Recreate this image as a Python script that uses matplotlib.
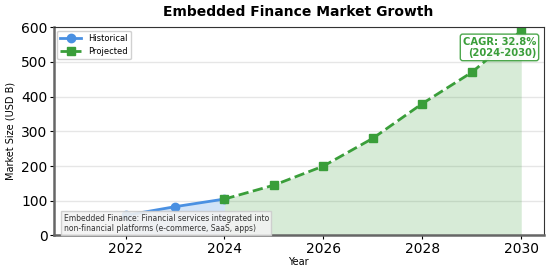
import matplotlib
matplotlib.use("Agg")
import matplotlib.pyplot as plt

hist_years = [2022, 2023, 2024]
hist_values = [58, 83, 105]
proj_years = [2024, 2025, 2026, 2027, 2028, 2029, 2030]
proj_values = [105, 145, 200, 280, 380, 470, 590]
xticks = [2022, 2024, 2026, 2028, 2030]
yticks = [0, 100, 200, 300, 400, 500, 600]

blue = "#4a90e2"
green = "#3a9e3a"

fig, ax = plt.subplots(figsize=(5.49, 2.67), dpi=100)
fig.subplots_adjust(left=0.098, right=0.99, top=0.898, bottom=0.118)

ax.fill_between(hist_years, hist_values, 0, color=blue, alpha=0.25, linewidth=0)
ax.fill_between(proj_years, proj_values, 0, color=green, alpha=0.2, linewidth=0)
ax.plot(hist_years, hist_values, color=blue, marker="o", markersize=6,
        linewidth=2, label="Historical")
ax.plot(proj_years, proj_values, color=green, marker="s", markersize=6,
        linewidth=2, linestyle="--", label="Projected")

ax.set_xlim(2020.55, 2030.45)
ax.set_ylim(0, 600)
ax.set_xticks(xticks)
ax.set_yticks(yticks)
ax.tick_params(labelsize=10, length=3, pad=1.5)
ax.yaxis.grid(True, color="#e6e6e6", linewidth=1)
ax.set_axisbelow(True)
for s in ["left", "bottom"]:
    ax.spines[s].set_linewidth(1.8)
    ax.spines[s].set_color("#666666")
ax.spines["top"].set_color("#333333")
ax.spines["right"].set_color("#333333")

ax.set_title("Embedded Finance Market Growth", fontsize=10, fontweight="bold", pad=8)
ax.set_xlabel("Year", fontsize=7, labelpad=1)
ax.set_ylabel("Market Size (USD B)", fontsize=7)

ax.legend(loc="upper left", fontsize=6, framealpha=0.9, handlelength=2.5,
          borderaxespad=0.4, labelspacing=0.5)

ax.text(0.985, 0.955, "CAGR: 32.8%\n(2024-2030)", transform=ax.transAxes,
        ha="right", va="top", fontsize=7.2, fontweight="bold", color=green,
        bbox=dict(boxstyle="round,pad=0.25", facecolor="white", edgecolor=green, alpha=0.9))

ax.text(0.02, 0.012, "Embedded Finance: Financial services integrated into\nnon-financial platforms (e-commerce, SaaS, apps)",
        transform=ax.transAxes, ha="left", va="bottom", fontsize=5.5, color="#333333",
        bbox=dict(boxstyle="square,pad=0.3", facecolor="#f2f2f2", edgecolor="#cccccc", alpha=0.9))

fig.savefig("out.png", dpi=100)
